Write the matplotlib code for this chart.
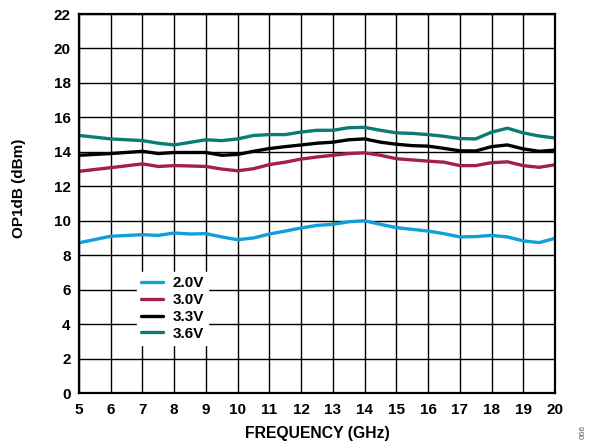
import matplotlib
matplotlib.use("Agg")
import matplotlib.pyplot as plt

plt.rcParams["font.family"] = ["Liberation Sans", "DejaVu Sans"]

freq = [5, 6, 7, 7.5, 8, 8.5, 9, 9.5, 10, 10.5, 11, 11.5, 12, 12.5, 13, 13.5,
        14, 14.5, 15, 15.5, 16, 16.5, 17, 17.5, 18, 18.5, 19, 19.5, 20]

op_2v0 = [8.72, 9.1, 9.19, 9.15, 9.29, 9.23, 9.25, 9.06, 8.9, 9.0, 9.23, 9.4,
          9.58, 9.73, 9.79, 9.94, 10.0, 9.79, 9.6, 9.5, 9.4, 9.25, 9.06, 9.08,
          9.15, 9.06, 8.83, 8.73, 8.98]
op_3v0 = [12.87, 13.08, 13.3, 13.15, 13.2, 13.18, 13.15, 13.0, 12.9, 13.02,
          13.26, 13.4, 13.58, 13.7, 13.8, 13.9, 13.94, 13.8, 13.6, 13.53,
          13.46, 13.4, 13.2, 13.2, 13.37, 13.42, 13.2, 13.1, 13.25]
op_3v3 = [13.8, 13.9, 14.03, 13.9, 13.96, 13.96, 13.96, 13.8, 13.85, 14.03,
          14.19, 14.3, 14.4, 14.5, 14.56, 14.7, 14.75, 14.56, 14.44, 14.36,
          14.33, 14.2, 14.06, 14.05, 14.3, 14.4, 14.17, 14.03, 14.1]
op_3v6 = [14.95, 14.75, 14.65, 14.5, 14.4, 14.55, 14.7, 14.65, 14.75, 14.95,
          15.0, 15.0, 15.15, 15.25, 15.25, 15.4, 15.42, 15.25, 15.1, 15.07,
          15.0, 14.9, 14.77, 14.75, 15.14, 15.37, 15.1, 14.92, 14.8]

series = [("2.0V", op_2v0, "#109fd8"),
          ("3.0V", op_3v0, "#a3204a"),
          ("3.3V", op_3v3, "#000000"),
          ("3.6V", op_3v6, "#0b7b73")]

fig = plt.figure(figsize=(6, 4.46), dpi=100)
ax = fig.add_axes([0.1317, 0.1188, 0.7933, 0.8498])

for label, vals, col in series:
    ax.plot(freq, vals, color=col, lw=2.4, label=label, solid_capstyle="round")

ax.set_xlim(5, 20)
ax.set_ylim(0, 22)
ax.set_xticks(range(5, 21))
ax.set_yticks(range(0, 23, 2))
ax.grid(True, color="black", lw=1.0)
ax.tick_params(length=0, labelsize=11)
ax.tick_params(axis="x", pad=7)
ax.tick_params(axis="y", pad=6)
for lab in ax.get_xticklabels() + ax.get_yticklabels():
    lab.set_fontweight("bold")
for sp in ax.spines.values():
    sp.set_linewidth(1.6)

ax.set_xlabel("FREQUENCY (GHz)", fontsize=11.3, fontweight="bold", labelpad=7)
ax.set_ylabel("OP1dB (dBm)", fontsize=11, fontweight="bold")
ax.yaxis.set_label_coords(-0.112, 0.54)

leg = ax.legend(loc="upper left", bbox_to_anchor=(0.105, 0.34), frameon=True,
                fancybox=False, edgecolor="white", framealpha=1.0,
                handlelength=1.4, handletextpad=0.65, labelspacing=0.18,
                borderpad=0.3, prop={"weight": "bold", "size": 11})

fig.text(0.972, 0.015, "066", rotation=90, fontsize=6, color="#555555",
         ha="center", va="bottom")

fig.savefig("out.png", dpi=100)
